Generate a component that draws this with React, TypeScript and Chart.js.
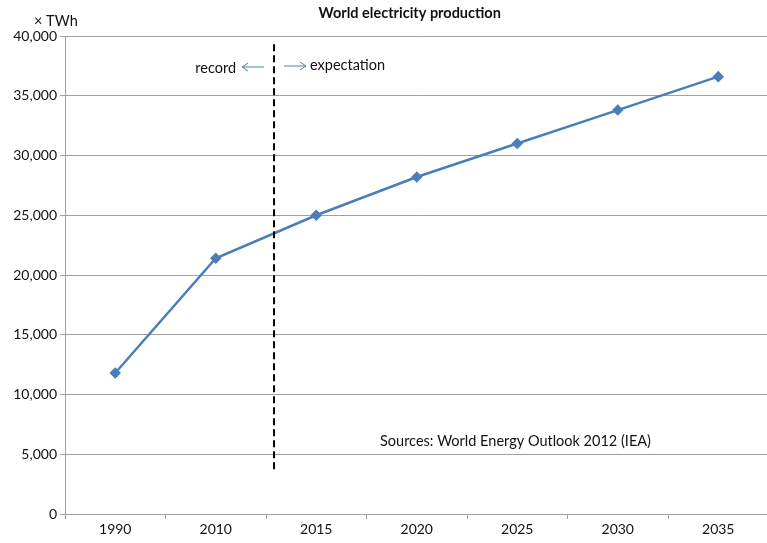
import React, { useEffect, useRef } from "react";
import { Chart, registerables } from "chart.js";

Chart.register(...registerables);

const categories = ["1990", "2010", "2015", "2020", "2025", "2030", "2035"];
const production = [11800, 21400, 25000, 28200, 31000, 33800, 36600];
const yMin = 0;
const yMax = 40000;
const yStep = 5000;
// divider between record and expectation, in category-index units
const dividerIndex = 1.58;
const dividerTop = 39300;
const dividerBottom = 3700;

const titleText = "World electricity production";
const unitText = "× TWh";
const recordText = "record";
const expectText = "expectation";
const sourceText = "Sources: World Energy Outlook 2012 (IEA)";

const FONT = "Lato, 'Open Sans', sans-serif";
const BLUE = "#4A7EBB";

const overlay = {
  id: "overlay",
  afterDraw(chart: any) {
    const ctx = chart.ctx as CanvasRenderingContext2D;
    const x = chart.scales.x;
    const y = chart.scales.y;
    const area = chart.chartArea;
    const x1 = x.getPixelForValue(1);
    const x2 = x.getPixelForValue(2);
    const dx = x1 + (x2 - x1) * (dividerIndex - 1);
    ctx.save();
    // dashed divider
    ctx.strokeStyle = "#000";
    ctx.lineWidth = 2;
    ctx.setLineDash([7, 4]);
    ctx.beginPath();
    ctx.moveTo(dx, y.getPixelForValue(dividerTop));
    ctx.lineTo(dx, y.getPixelForValue(dividerBottom));
    ctx.stroke();
    ctx.setLineDash([]);

    // title
    ctx.fillStyle = "#111";
    ctx.font = `bold 14.5px ${FONT}`;
    ctx.textAlign = "center";
    ctx.textBaseline = "middle";
    ctx.fillText(titleText, (area.left + area.right) / 2 - 7, 13);

    // unit
    ctx.font = `14.5px ${FONT}`;
    ctx.textAlign = "left";
    ctx.fillText(unitText, area.left - 31, 21);

    // record / expectation
    const ty = area.top + 32;
    ctx.textAlign = "right";
    ctx.fillText(recordText, dx - 38, ty);
    ctx.textAlign = "left";
    ctx.fillText(expectText, dx + 36, ty - 3);

    // arrows
    ctx.strokeStyle = BLUE;
    ctx.lineWidth = 1;
    ctx.beginPath();
    ctx.moveTo(dx - 10, ty - 1);
    ctx.lineTo(dx - 32, ty - 1);
    ctx.moveTo(dx - 26, ty - 5);
    ctx.lineTo(dx - 32, ty - 1);
    ctx.lineTo(dx - 26, ty + 3);
    ctx.moveTo(dx + 10, ty - 2);
    ctx.lineTo(dx + 32, ty - 2);
    ctx.moveTo(dx + 26, ty - 6);
    ctx.lineTo(dx + 32, ty - 2);
    ctx.lineTo(dx + 26, ty + 2);
    ctx.stroke();

    // sources
    ctx.fillStyle = "#111";
    ctx.textAlign = "left";
    ctx.fillText(sourceText, area.left + 315, area.bottom - 73);
    ctx.restore();
  },
};

export default function App() {
  const ref = useRef<HTMLCanvasElement>(null);
  useEffect(() => {
    if (!ref.current) return;
    const chart = new Chart(ref.current, {
      type: "line",
      data: {
        labels: categories,
        datasets: [
          {
            data: production,
            borderColor: BLUE,
            backgroundColor: BLUE,
            borderWidth: 2.5,
            pointStyle: "rectRot",
            pointRadius: 4,
            pointHoverRadius: 4,
            tension: 0,
          },
        ],
      },
      options: {
        responsive: false,
        animation: false,
        layout: { padding: { left: 0, right: 3, top: 36, bottom: 0 } },
        plugins: {
          legend: { display: false },
          title: { display: false },
          tooltip: { enabled: false },
        },
        scales: {
          x: {
            offset: true,
            grid: {
              offset: true,
              drawOnChartArea: false,
              drawTicks: true,
              tickLength: 5,
              color: "#A0A0A0",
            },
            border: { color: "#A0A0A0", width: 1 },
            ticks: {
              color: "#111",
              font: { family: FONT, size: 14 },
              padding: 2,
              maxRotation: 0,
            },
            afterFit(s: any) {
              s.height = 29;
            },
          },
          y: {
            min: yMin,
            max: yMax,
            grid: { color: "#A0A0A0", tickLength: 5 },
            border: { color: "#A0A0A0", width: 1 },
            ticks: {
              stepSize: yStep,
              color: "#111",
              font: { family: FONT, size: 14 },
              padding: 3,
              callback: (v: any) => Number(v).toLocaleString("en-US"),
            },
            afterFit(s: any) {
              s.width = 65;
            },
          },
        },
      },
      plugins: [overlay],
    });
    return () => chart.destroy();
  }, []);
  return (
    <div
      style={{
        position: "fixed",
        left: 0,
        top: 0,
        width: 767,
        height: 543,
        overflow: "hidden",
        background: "#fff",
      }}
    >
      <canvas ref={ref} width={775} height={543} style={{ display: "block" }} />
    </div>
  );
}
